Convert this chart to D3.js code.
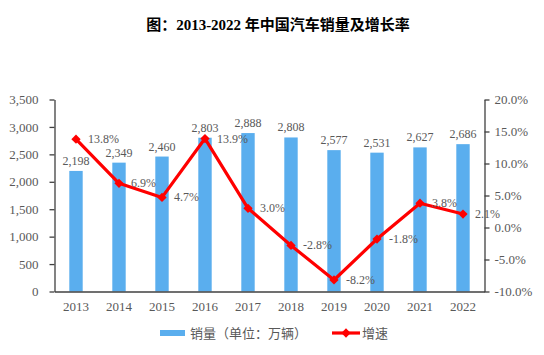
<!DOCTYPE html>
<html><head><meta charset="utf-8">
<script src="https://cdn.jsdelivr.net/npm/d3@7"></script>
<style>body{margin:0;background:#fff}svg{display:block}</style>
</head><body>
<svg id="c" width="544" height="355"></svg>
<script>
const years = ["2013","2014","2015","2016","2017","2018","2019","2020","2021","2022"];
const sales = [2198,2349,2460,2803,2888,2808,2577,2531,2627,2686];
const growth = [13.8,6.9,4.7,13.9,3.0,-2.8,-8.2,-1.8,3.8,2.1];
const leftTicks = [0,500,1000,1500,2000,2500,3000,3500];
const rightTicks = [-10,-5,0,5,10,15,20];

const svg = d3.select("#c");
const serif = "'Times New Roman','Liberation Serif','Noto Sans CJK SC',serif";
const L = 54.5, R = 484.5, T = 99.5, B = 291.5;
const xc = d3.scaleBand().domain(years).range([L, R]);
const y = d3.scaleLinear().domain([0,3500]).range([B, T]);
const y2 = d3.scaleLinear().domain([-10,20]).range([B, T]);

svg.append("text").attr("x",278).attr("y",30).attr("text-anchor","middle")
  .attr("font-family",serif).attr("font-weight","bold").attr("font-size",15).attr("fill","#000")
  .text("图：2013-2022 年中国汽车销量及增长率");

// bars
svg.selectAll("rect.bar").data(years).join("rect").attr("class","bar")
  .attr("x", d => xc(d) + xc.bandwidth()/2 - 6.7).attr("width", 13.4)
  .attr("y", (d,i) => y(sales[i])).attr("height", (d,i) => B - y(sales[i]))
  .attr("fill","#5AAEEE");

// bar labels
svg.selectAll("text.bl").data(years).join("text").attr("class","bl")
  .attr("x", d => xc(d) + xc.bandwidth()/2).attr("y", (d,i) => y(sales[i]) - 6)
  .attr("text-anchor","middle").attr("font-family",serif).attr("font-size",12).attr("fill","#595959")
  .text((d,i) => d3.format(",")(sales[i]));

// axes
const axL = svg.append("g").attr("transform",`translate(${L},0)`)
  .call(d3.axisLeft(y).tickValues(leftTicks).tickFormat(d3.format(",")).tickSize(5).tickSizeOuter(0));
const axR = svg.append("g").attr("transform",`translate(${R},0)`)
  .call(d3.axisRight(y2).tickValues(rightTicks).tickFormat(d => d.toFixed(1)+"%").tickSize(5).tickSizeOuter(0));
const axB = svg.append("g").attr("transform",`translate(0,${B})`)
  .call(d3.axisBottom(xc).tickSize(0).tickSizeOuter(0));
[axL,axR,axB].forEach(g => {
  g.selectAll("path,line").attr("stroke","#404040").attr("stroke-width",1.3);
  g.selectAll("text").attr("font-family",serif).attr("font-size",13).attr("fill","#595959");
});
axB.selectAll("text").attr("dy","1.25em");
axL.selectAll("text").attr("x",-16);
axR.selectAll("text").attr("x",10);

// line
const line = d3.line().x((d,i) => xc(years[i]) + xc.bandwidth()/2).y(d => y2(d));
svg.append("path").datum(growth).attr("d", line).attr("fill","none")
  .attr("stroke","#FF0000").attr("stroke-width",3.2).attr("stroke-linejoin","round");
const diamond = d3.symbol().type(d3.symbolDiamond2).size(55);
svg.selectAll("path.mk").data(growth).join("path").attr("class","mk")
  .attr("transform",(d,i) => `translate(${xc(years[i]) + xc.bandwidth()/2},${y2(d)})`)
  .attr("d", diamond).attr("fill","#FF0000");
svg.selectAll("text.gl").data(growth).join("text").attr("class","gl")
  .attr("x",(d,i) => xc(years[i]) + xc.bandwidth()/2 + 12).attr("y", d => y2(d) + 4)
  .attr("font-family",serif).attr("font-size",12).attr("fill","#595959")
  .text(d => d.toFixed(1)+"%");

// legend
const lg = svg.append("g");
lg.append("rect").attr("x",160).attr("y",330).attr("width",25).attr("height",6).attr("fill","#5AAEEE");
lg.append("text").attr("x",190).attr("y",338).attr("font-family",serif).attr("font-size",13).attr("fill","#595959")
  .text("销量（单位：万辆）");
lg.append("line").attr("x1",332).attr("x2",360).attr("y1",333).attr("y2",333).attr("stroke","#FF0000").attr("stroke-width",3.2);
lg.append("path").attr("transform","translate(346,333)").attr("d",diamond).attr("fill","#FF0000");
lg.append("text").attr("x",362).attr("y",338).attr("font-family",serif).attr("font-size",13).attr("fill","#595959").text("增速");
</script>
</body></html>
